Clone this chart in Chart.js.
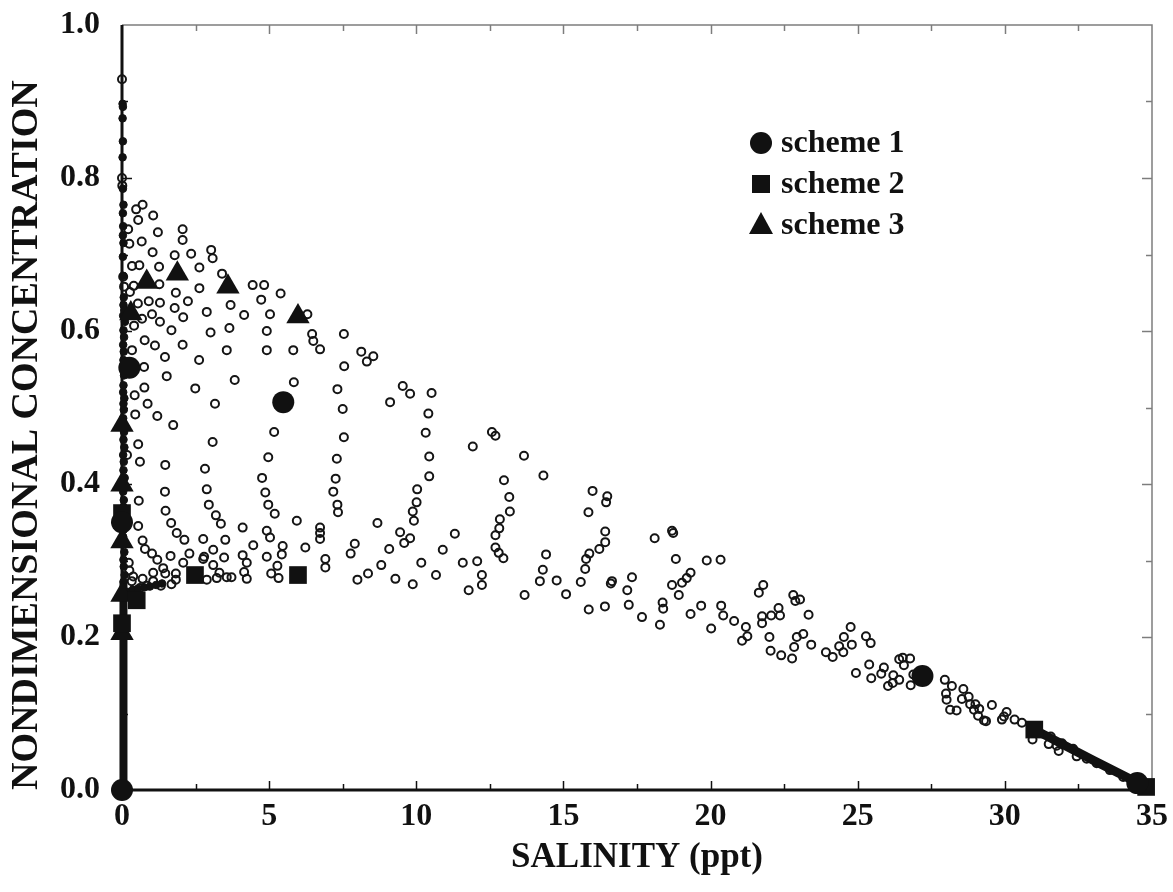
<!DOCTYPE html>
<html>
<head>
<meta charset="utf-8">
<title>Nondimensional concentration vs salinity</title>
<script src="https://cdn.jsdelivr.net/npm/chart.js@4.4.1/dist/chart.umd.min.js"></script>
<style>
  html, body { margin: 0; padding: 0; background: #fff; }
  #wrap { width: 1173px; height: 892px; }
</style>
</head>
<body>
<div id="wrap"><canvas id="chart-mixing" width="1173" height="892"></canvas></div>
<script>
// [salinity (ppt), nondimensional concentration]
// all model runs, drawn as small open circles
const runPoints = [
  [0.00, 0.929], [0.00, 0.800], [0.01, 0.790],
  [0.48, 0.759], [0.70, 0.765], [0.55, 0.745], [1.06, 0.751], [1.22, 0.729], [2.06, 0.733],
  [2.06, 0.719], [0.67, 0.717], [0.25, 0.714], [0.21, 0.733], [1.04, 0.703], [1.79, 0.699],
  [2.35, 0.701], [3.03, 0.706], [3.08, 0.695], [2.63, 0.683], [1.26, 0.684], [0.34, 0.685],
  [0.59, 0.686], [3.40, 0.675], [1.27, 0.661], [0.40, 0.659], [0.07, 0.658], [0.27, 0.651],
  [1.83, 0.650], [2.63, 0.656], [4.44, 0.660], [4.83, 0.660], [5.39, 0.649], [4.73, 0.641],
  [3.69, 0.634], [4.15, 0.621], [5.03, 0.622], [6.30, 0.622], [2.88, 0.625], [2.24, 0.639],
  [1.79, 0.630], [2.08, 0.618], [1.29, 0.637], [0.91, 0.639], [0.54, 0.636], [1.02, 0.622],
  [1.29, 0.612], [0.68, 0.616], [0.41, 0.607], [1.68, 0.601], [3.01, 0.598], [3.65, 0.604],
  [4.92, 0.600], [6.46, 0.596], [6.50, 0.587], [7.54, 0.596], [6.73, 0.576], [0.04, 0.671],
  [0.77, 0.588], [1.12, 0.581], [2.06, 0.582], [0.34, 0.575], [3.56, 0.575], [4.92, 0.575],
  [5.82, 0.575], [8.13, 0.573], [8.54, 0.567], [8.32, 0.560], [1.46, 0.566], [2.62, 0.562],
  [7.55, 0.554], [0.75, 0.553], [1.52, 0.541], [3.83, 0.536], [5.84, 0.533], [9.54, 0.528],
  [9.79, 0.518], [10.52, 0.519], [0.76, 0.526], [2.49, 0.525], [7.32, 0.524], [9.11, 0.507],
  [0.87, 0.505], [0.43, 0.516], [3.16, 0.505], [7.50, 0.498], [10.41, 0.492], [0.45, 0.491],
  [1.20, 0.489], [1.74, 0.477], [5.17, 0.468], [10.32, 0.467], [0.55, 0.452], [3.08, 0.455],
  [7.54, 0.461], [0.61, 0.429], [1.47, 0.425], [4.97, 0.435], [7.30, 0.433], [10.44, 0.436],
  [2.82, 0.420], [4.76, 0.408], [7.26, 0.407], [10.44, 0.410], [1.46, 0.390], [2.88, 0.393],
  [4.87, 0.389], [7.18, 0.390], [10.03, 0.393], [0.57, 0.378], [2.95, 0.373], [4.97, 0.373],
  [7.32, 0.373], [7.34, 0.363], [10.01, 0.376], [9.88, 0.364], [9.92, 0.352], [1.48, 0.365],
  [3.19, 0.359], [5.19, 0.361], [5.94, 0.352], [3.36, 0.348], [4.10, 0.343], [8.68, 0.349],
  [9.45, 0.337], [9.59, 0.323], [9.79, 0.329], [1.67, 0.349], [1.86, 0.336], [2.12, 0.327],
  [2.76, 0.328], [3.51, 0.327], [4.92, 0.339], [5.03, 0.330], [6.73, 0.343], [6.73, 0.336],
  [6.73, 0.328], [7.91, 0.322], [4.46, 0.320], [5.46, 0.319], [6.23, 0.317], [0.55, 0.345],
  [0.70, 0.326], [10.90, 0.314], [9.08, 0.315], [0.17, 0.438], [0.78, 0.315],
  [1.02, 0.309], [1.20, 0.301], [1.65, 0.306], [2.29, 0.309], [2.79, 0.305], [3.10, 0.314],
  [3.47, 0.304], [4.10, 0.307], [4.24, 0.297], [4.92, 0.305], [5.43, 0.308], [6.91, 0.302],
  [6.91, 0.291], [5.28, 0.293], [5.07, 0.283], [5.32, 0.277], [4.15, 0.285], [4.24, 0.276],
  [3.56, 0.278], [3.72, 0.278], [3.31, 0.284], [3.22, 0.277], [2.88, 0.275], [3.10, 0.294],
  [2.76, 0.302], [2.08, 0.297], [1.83, 0.283], [1.83, 0.275], [1.68, 0.269], [1.40, 0.290],
  [1.47, 0.283], [1.32, 0.267], [1.06, 0.284], [1.06, 0.273], [0.84, 0.267], [0.61, 0.264],
  [0.70, 0.276], [0.38, 0.279], [0.25, 0.287], [0.23, 0.297], [7.77, 0.309], [8.00, 0.275],
  [8.36, 0.283], [8.81, 0.294], [9.29, 0.276], [10.17, 0.297], [9.88, 0.269], [10.67, 0.281],
  [0.33, 0.273],
  [12.57, 0.468], [12.69, 0.463], [11.92, 0.449], [13.66, 0.437], [14.32, 0.411], [12.98, 0.405],
  [13.16, 0.383], [13.18, 0.364], [12.84, 0.354], [12.82, 0.342], [12.69, 0.333], [12.69, 0.317],
  [12.80, 0.310], [12.96, 0.303], [11.31, 0.335], [11.58, 0.297], [12.07, 0.299], [12.23, 0.281],
  [12.23, 0.268], [11.78, 0.261], [13.68, 0.255], [15.99, 0.391], [16.49, 0.384], [16.45, 0.376],
  [15.85, 0.363], [16.42, 0.338], [16.42, 0.324], [16.22, 0.315], [15.88, 0.309], [15.77, 0.302],
  [15.74, 0.289], [15.59, 0.272], [14.41, 0.308], [14.30, 0.288], [14.20, 0.273], [14.77, 0.274],
  [15.09, 0.256], [16.65, 0.273], [16.61, 0.270], [17.33, 0.278], [17.17, 0.261], [18.10, 0.329],
  [18.69, 0.339], [18.73, 0.336], [18.82, 0.302], [19.87, 0.300], [20.34, 0.301], [19.32, 0.284],
  [19.19, 0.277], [19.03, 0.271], [18.69, 0.268], [18.92, 0.255], [21.79, 0.268], [21.64, 0.258],
  [22.81, 0.255],
  [15.86, 0.236], [16.41, 0.240], [17.22, 0.242], [17.67, 0.226], [18.28, 0.216], [18.37, 0.245],
  [18.39, 0.237], [19.32, 0.230], [19.68, 0.241], [20.02, 0.211], [20.36, 0.241], [20.43, 0.228],
  [20.80, 0.221], [21.20, 0.213], [21.25, 0.201], [21.07, 0.195], [21.75, 0.227], [21.75, 0.218],
  [22.06, 0.228], [22.31, 0.238], [22.36, 0.228], [22.88, 0.247], [23.04, 0.249], [23.33, 0.229],
  [22.00, 0.200], [22.04, 0.182], [22.40, 0.176], [22.77, 0.172], [22.84, 0.187], [22.93, 0.200],
  [23.15, 0.204], [23.42, 0.190], [23.92, 0.180], [24.15, 0.174], [24.37, 0.188], [24.51, 0.180],
  [24.53, 0.200], [24.76, 0.213], [24.80, 0.190], [25.28, 0.201], [25.44, 0.192], [25.39, 0.164],
  [24.94, 0.153], [25.89, 0.160], [25.80, 0.152], [26.21, 0.150], [26.41, 0.171], [25.46, 0.146],
  [26.41, 0.144], [26.53, 0.173], [26.78, 0.172], [26.57, 0.163], [26.80, 0.137], [26.19, 0.140],
  [26.03, 0.136], [26.89, 0.151],
  [27.96, 0.144], [28.00, 0.126], [28.02, 0.118], [28.14, 0.105], [28.36, 0.104], [28.20, 0.136],
  [28.59, 0.132], [28.54, 0.119], [28.77, 0.122], [28.82, 0.112], [29.00, 0.112], [28.95, 0.105],
  [29.13, 0.106], [29.09, 0.097], [29.29, 0.091], [29.36, 0.090], [29.56, 0.111], [29.97, 0.096],
  [29.90, 0.092], [30.06, 0.102], [30.33, 0.092], [30.58, 0.088], [30.94, 0.066], [31.56, 0.070],
  [31.49, 0.060], [31.76, 0.058], [31.94, 0.061], [31.83, 0.051], [32.32, 0.054], [32.44, 0.044],
  [32.78, 0.041], [33.12, 0.035], [33.57, 0.026], [34.02, 0.017], [34.37, 0.009]
];

// runs that pile up on the freshwater axis, drawn as small solid dots
const axisPoints = [
  [0.02, 0.897], [0.03, 0.893], [0.02, 0.878], [0.03, 0.848], [0.02, 0.827], [0.03, 0.786],
  [0.05, 0.765], [0.03, 0.754], [0.04, 0.737], [0.03, 0.725], [0.05, 0.715], [0.03, 0.697],
  [0.04, 0.672], [0.06, 0.644], [0.05, 0.634], [0.08, 0.627], [0.04, 0.620], [0.10, 0.612],
  [0.05, 0.601], [0.07, 0.592], [0.04, 0.582], [0.06, 0.573], [0.05, 0.562], [0.07, 0.542],
  [0.05, 0.529], [0.04, 0.520], [0.08, 0.512], [0.05, 0.505], [0.06, 0.497], [0.04, 0.486],
  [0.07, 0.468], [0.05, 0.458], [0.08, 0.448], [0.04, 0.438], [0.06, 0.429], [0.05, 0.418],
  [0.09, 0.408], [0.04, 0.390], [0.06, 0.379], [0.05, 0.370], [0.07, 0.350], [0.05, 0.340],
  [0.04, 0.331], [0.08, 0.311], [0.05, 0.301], [0.06, 0.292], [0.09, 0.281], [0.05, 0.272],
  [0.20, 0.259], [0.37, 0.262], [0.54, 0.263], [0.75, 0.265], [0.95, 0.266], [1.16, 0.268],
  [1.36, 0.270]
];

// densely packed runs that merge into solid bands
const freshBand = [[0.05, 0.0], [0.05, 0.27]];
const seaBand = [[31.2, 0.075], [33.0, 0.039], [34.8, 0.004]];

const scheme1 = [[0.0, 0.0], [0.25, 0.552], [0.0, 0.350], [5.48, 0.507], [27.2, 0.149], [34.5, 0.009]];
const scheme2 = [[0.0, 0.362], [0.0, 0.218], [0.5, 0.248], [2.48, 0.281], [5.98, 0.281], [31.0, 0.079], [34.8, 0.004]];
const scheme3 = [[0.84, 0.664], [1.88, 0.675], [3.60, 0.658], [5.98, 0.619], [0.30, 0.623],
  [0.0, 0.477], [0.0, 0.399], [0.0, 0.325], [0.0, 0.255], [0.0, 0.205]];

const xTicks = [0, 5, 10, 15, 20, 25, 30, 35];
const yTicks = [0, 0.2, 0.4, 0.6, 0.8, 1.0];

const serif = "'Liberation Serif', 'Times New Roman', serif";
const ink = "#111";
const xy = (pts) => pts.map(([s, c]) => ({ x: s, y: c }));

// keep the plot box fixed: no extra room reserved for end labels
const noEdgePadding = (scale) => {
  scale.paddingTop = 0;
  scale.paddingBottom = 0;
  scale.paddingLeft = 0;
  scale.paddingRight = 0;
};

// box around the plot with inward tick marks: heavy left/bottom, light top/right
const frameTicks = {
  id: "frameTicks",
  beforeDatasetsDraw(chart) {
    const { ctx, chartArea: a, scales: { x, y } } = chart;
    ctx.save();
    ctx.strokeStyle = "#7d7d7d";
    ctx.lineWidth = 1.5;
    ctx.beginPath();
    ctx.moveTo(a.left, a.top);
    ctx.lineTo(a.right, a.top);
    ctx.lineTo(a.right, a.bottom);
    ctx.stroke();

    for (let v = 2.5; v < 35; v += 2.5) {
      const px = Math.round(x.getPixelForValue(v)) + 0.5;
      const len = v % 5 === 0 ? 9 : 6;
      ctx.strokeStyle = "#7d7d7d";
      ctx.lineWidth = 1.5;
      ctx.beginPath();
      ctx.moveTo(px, a.top);
      ctx.lineTo(px, a.top + len);
      ctx.stroke();
      ctx.strokeStyle = ink;
      ctx.beginPath();
      ctx.moveTo(px, a.bottom);
      ctx.lineTo(px, a.bottom - len);
      ctx.stroke();
    }
    for (let i = 1; i < 10; i++) {
      const py = Math.round(y.getPixelForValue(i / 10)) + 0.5;
      const len = i % 2 === 0 ? 10 : 6;
      ctx.strokeStyle = "#7d7d7d";
      ctx.beginPath();
      ctx.moveTo(a.right, py);
      ctx.lineTo(a.right - len, py);
      ctx.stroke();
      ctx.strokeStyle = ink;
      ctx.beginPath();
      ctx.moveTo(a.left, py);
      ctx.lineTo(a.left + len, py);
      ctx.stroke();
    }

    ctx.strokeStyle = ink;
    ctx.lineWidth = 3;
    ctx.beginPath();
    ctx.moveTo(a.left, a.top);
    ctx.lineTo(a.left, a.bottom);
    ctx.lineTo(a.right, a.bottom);
    ctx.stroke();
    ctx.restore();
  }
};

// legend box inside the plot, one row per scheme
const schemeLegend = {
  id: "schemeLegend",
  afterDraw(chart) {
    const { ctx } = chart;
    const rows = chart.data.datasets.filter((d) => d.inLegend);
    ctx.save();
    ctx.font = "bold 32px " + serif;
    ctx.textBaseline = "middle";
    ctx.fillStyle = ink;
    rows.forEach((d, i) => {
      const cx = 761, cy = 143 + i * 41;
      ctx.beginPath();
      if (d.pointStyle === "circle") {
        ctx.arc(cx, cy, 11, 0, Math.PI * 2);
      } else if (d.pointStyle === "rect") {
        ctx.rect(cx - 9, cy - 9, 18, 18);
      } else {
        ctx.moveTo(cx, cy - 13);
        ctx.lineTo(cx + 12, cy + 9);
        ctx.lineTo(cx - 12, cy + 9);
        ctx.closePath();
      }
      ctx.fill();
      ctx.fillText(d.label, 781, cy + 1);
    });
    ctx.restore();
  }
};

const ctx = document.getElementById("chart-mixing").getContext("2d");

const mixingChart = new Chart(ctx, {
  type: "scatter",
  data: {
    datasets: [
      {
        label: "scheme 1",
        inLegend: true,
        data: xy(scheme1),
        pointStyle: "circle",
        pointRadius: 11,
        backgroundColor: ink,
        borderColor: ink,
        borderWidth: 0,
        clip: false,
        order: 0,
      },
      {
        label: "scheme 2",
        inLegend: true,
        data: xy(scheme2),
        pointStyle: "rect",
        pointRadius: 12.5,
        backgroundColor: ink,
        borderColor: ink,
        borderWidth: 0,
        clip: false,
        order: 0,
      },
      {
        label: "scheme 3",
        inLegend: true,
        data: xy(scheme3),
        pointStyle: "triangle",
        pointRadius: 13.5,
        backgroundColor: ink,
        borderColor: ink,
        borderWidth: 0,
        clip: false,
        order: 0,
      },
      {
        label: "fresh band",
        data: xy(freshBand),
        showLine: true,
        borderColor: ink,
        borderWidth: 8,
        pointRadius: 0,
        clip: false,
        order: 2,
      },
      {
        label: "sea band",
        data: xy(seaBand),
        showLine: true,
        borderColor: ink,
        borderWidth: 9,
        borderCapStyle: "round",
        pointRadius: 0,
        clip: false,
        order: 2,
      },
      {
        label: "axis runs",
        data: xy(axisPoints),
        pointStyle: "circle",
        pointRadius: 3.8,
        backgroundColor: ink,
        borderColor: ink,
        borderWidth: 1,
        clip: false,
        order: 2,
      },
      {
        label: "runs",
        data: xy(runPoints),
        pointStyle: "circle",
        pointRadius: 4,
        backgroundColor: "rgba(255,255,255,0)",
        borderColor: "#151515",
        borderWidth: 2,
        clip: false,
        order: 3,
      },
    ],
  },
  plugins: [frameTicks, schemeLegend],
  options: {
    responsive: false,
    animation: false,
    devicePixelRatio: 1,
    layout: { padding: { top: 25, right: 21, bottom: 0, left: 0 } },
    plugins: {
      legend: { display: false },
      tooltip: { enabled: false },
    },
    scales: {
      x: {
        type: "linear",
        min: 0,
        max: 35,
        afterBuildTicks: (scale) => { scale.ticks = xTicks.map((v) => ({ value: v })); },
        grid: { display: false, drawTicks: false },
        border: { display: false },
        ticks: {
          padding: 8,
          color: ink,
          maxRotation: 0,
          font: { family: serif, size: 32, weight: "bold" },
        },
        title: {
          display: true,
          text: "SALINITY (ppt)",
          color: ink,
          font: { family: serif, size: 35, weight: "bold" },
          padding: { top: 0, bottom: 13 },
        },
        afterFit: (scale) => { scale.height = 102; noEdgePadding(scale); },
      },
      y: {
        type: "linear",
        min: 0,
        max: 1,
        afterBuildTicks: (scale) => { scale.ticks = yTicks.map((v) => ({ value: v })); },
        grid: { display: false, drawTicks: false },
        border: { display: false },
        ticks: {
          padding: 22,
          color: ink,
          font: { family: serif, size: 32, weight: "bold" },
          callback: (v) => Number(v).toFixed(1),
        },
        title: {
          display: true,
          text: "NONDIMENSIONAL CONCENTRATION",
          align: "start",
          color: ink,
          font: { family: serif, size: 38, weight: "bold" },
          padding: { top: 4, bottom: 0 },
        },
        afterFit: (scale) => { scale.width = 122; noEdgePadding(scale); },
      },
    },
  },
});
</script>
</body>
</html>
